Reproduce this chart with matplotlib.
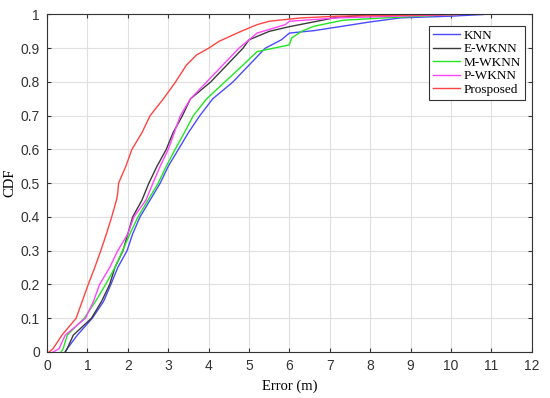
import numpy as np
import matplotlib
matplotlib.use("Agg")
import matplotlib.pyplot as plt

# CDF curves (error in m, cumulative probability)
knn_err = [0.45, 0.5, 0.75, 1.12, 1.4, 1.58, 1.75, 1.98, 2.12, 2.3, 2.55, 2.8, 3.0, 3.25,
           3.5, 3.78, 4.1, 4.6, 5.0, 5.4, 5.8, 6.0, 6.6, 7.3, 8.0, 8.75, 10.0, 10.8]
knn_cdf = [0.0, 0.01, 0.05, 0.1, 0.15, 0.2, 0.25, 0.3, 0.35, 0.4, 0.45, 0.5, 0.55, 0.6,
           0.65, 0.7, 0.75, 0.8, 0.85, 0.9, 0.925, 0.945, 0.952, 0.965, 0.978, 0.99, 0.995, 1.0]

ewknn_err = [0.45, 0.5, 0.65, 1.1, 1.35, 1.55, 1.68, 1.88, 2.0, 2.12, 2.35, 2.52, 2.72, 2.95,
             3.12, 3.35, 3.55, 4.05, 4.45, 4.85, 5.0, 5.5, 6.0, 6.6, 7.1, 8.0]
ewknn_cdf = [0.0, 0.01, 0.05, 0.1, 0.15, 0.2, 0.25, 0.3, 0.35, 0.4, 0.45, 0.5, 0.55, 0.6,
             0.65, 0.7, 0.75, 0.8, 0.85, 0.9, 0.925, 0.95, 0.964, 0.978, 0.99, 1.0]

mwknn_err = [0.35, 0.4, 0.5, 0.92, 1.2, 1.45, 1.68, 1.87, 2.05, 2.25, 2.5, 2.75, 2.95, 3.17,
             3.4, 3.62, 3.95, 4.4, 4.85, 5.2, 6.0, 6.05, 6.3, 6.6, 7.33, 8.37, 10.1]
mwknn_cdf = [0.0, 0.01, 0.05, 0.1, 0.15, 0.2, 0.25, 0.3, 0.35, 0.4, 0.45, 0.5, 0.55, 0.6,
             0.65, 0.7, 0.75, 0.8, 0.85, 0.89, 0.91, 0.93, 0.95, 0.965, 0.983, 0.99, 1.0]

pwknn_err = [0.15, 0.3, 0.45, 0.95, 1.15, 1.3, 1.55, 1.75, 2.0, 2.15, 2.45, 2.62, 2.8, 3.0,
             3.15, 3.3, 3.55, 3.95, 4.35, 4.75, 5.2, 5.9, 6.0, 7.2, 10.2]
pwknn_cdf = [0.0, 0.01, 0.05, 0.1, 0.15, 0.2, 0.25, 0.3, 0.35, 0.4, 0.45, 0.5, 0.55, 0.6,
             0.65, 0.7, 0.75, 0.8, 0.85, 0.9, 0.945, 0.97, 0.98, 0.99, 1.0]

prop_err = [0.05, 0.15, 0.37, 0.72, 0.87, 1.02, 1.18, 1.33, 1.47, 1.6, 1.72, 1.75, 1.77, 1.95,
            2.1, 2.35, 2.55, 2.88, 3.18, 3.45, 3.7, 4.0, 4.25, 4.8, 5.2, 5.5, 6.3, 7.2, 10.2]
prop_cdf = [0.0, 0.01, 0.05, 0.1, 0.15, 0.2, 0.25, 0.3, 0.35, 0.4, 0.45, 0.47, 0.5, 0.55,
            0.6, 0.65, 0.7, 0.75, 0.8, 0.85, 0.88, 0.9, 0.92, 0.95, 0.97, 0.98, 0.99, 0.995, 1.0]

nomes = ["KNN", "E-WKNN", "M-WKNN", "P-WKNN", "Prosposed"]
erros = [knn_err, ewknn_err, mwknn_err, pwknn_err, prop_err]
cdfs = [knn_cdf, ewknn_cdf, mwknn_cdf, pwknn_cdf, prop_cdf]
cores = ["#4a4aff", "#3a3a3a", "#22e622", "#ff44ff", "#ff4444"]

fig = plt.figure(figsize=(5.5, 3.98), dpi=100)
ax = fig.add_axes([0.0855, 0.1156, 0.8815, 0.848])

for nome, x, y, cor in zip(nomes, erros, cdfs, cores):
    ax.plot(x, y, color=cor, linewidth=1.0, label=nome)

ax.set_xlim(0, 12)
ax.set_ylim(0, 1)
ax.set_xticks(np.arange(0, 13, 1))
ax.set_yticks(np.arange(0, 1.01, 0.1))
ax.set_yticklabels(["0", "0.1", "0.2", "0.3", "0.4", "0.5", "0.6", "0.7", "0.8", "0.9", "1"])

ax.grid(True, color="#e0e0e0", linewidth=0.8)
ax.set_axisbelow(True)
ax.tick_params(direction="in", top=True, right=True, length=3, width=0.8,
               labelsize=10, colors="#333333", pad=5)
for lbl in ax.get_xticklabels() + ax.get_yticklabels():
    lbl.set_family("Liberation Sans")
for s in ax.spines.values():
    s.set_color("#333333")
    s.set_linewidth(0.8)

ax.set_xlabel("Error (m)", family="Liberation Serif", fontsize=10.5, labelpad=5)
ax.set_ylabel("CDF", family="Liberation Serif", fontsize=10.5, labelpad=3)

leg = ax.legend(loc="upper right", bbox_to_anchor=(0.9856, 0.967), borderaxespad=0,
                fancybox=False, edgecolor="#333333", framealpha=1,
                prop={"family": "Liberation Serif", "size": 9.5},
                handlelength=2.0, handletextpad=0.3, labelspacing=0.1, borderpad=0.3)
leg.get_frame().set_linewidth(0.8)

fig.savefig("out.png", dpi=100)
